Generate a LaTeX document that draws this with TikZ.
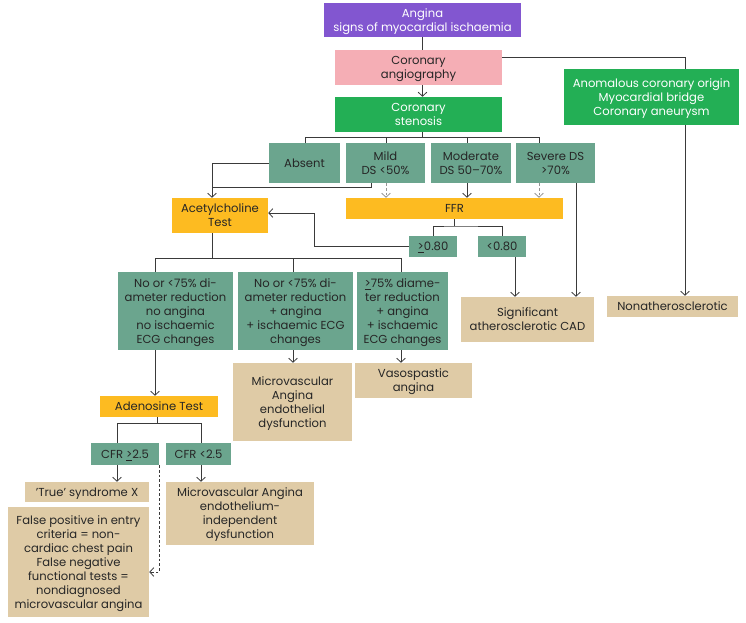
\documentclass[tikz,border=0pt]{standalone}
\usepackage{fontspec}
\setmainfont{Poppins}
\usetikzlibrary{arrows.meta}
\usetikzlibrary{positioning}
\usetikzlibrary{calc}
\definecolor{purpc}{HTML}{8256D0}
\definecolor{pinkc}{HTML}{F5AEB5}
\definecolor{greenc}{HTML}{23AF55}
\definecolor{tealc}{HTML}{6BA58E}
\definecolor{orangec}{HTML}{FDBB21}
\definecolor{beigec}{HTML}{DFCBA6}
\definecolor{linec}{HTML}{3A3A3A}
\definecolor{txtc}{HTML}{262626}
\tikzset {
  syntax path/.style = {
    draw = linec,
    line width = 0.6pt
  },
  % path style with an open tip at the end
  arr/.style = {
    syntax path,
    -{Straight Barb[length=3pt,width=6.5pt]}
  },
  % path style with no arrows
  narr/.style = {
    syntax path
  },
  % dashed path with tip
  darr/.style = {
    arr,
    dash pattern = on 2pt off 1.5pt
  },
  % grey dashed path with tip
  garr/.style = {
    darr,
    draw = linec!55
  }
}
\tikzset {
  flow node/.style = {
    inner sep = 0,
    align = center,
    text = txtc,
    font = \fontsize{8.7}{10.5}\selectfont,
    text depth = 0pt
  },
  sz/.style 2 args = {
    minimum width = #1*0.75pt,
    minimum height = #2*0.75pt
  },
  % start box
  purpb/.style = {flow node, fill = purpc, text = white},
  pinkb/.style = {flow node, fill = pinkc},
  greenb/.style = {flow node, fill = greenc, text = white},
  % stenosis grades and results
  tealb/.style = {flow node, fill = tealc},
  % tests
  orab/.style = {flow node, fill = orangec},
  % diagnoses
  beigeb/.style = {flow node, fill = beigec}
}
\begin{document}
\begin{tikzpicture}[x=0.75pt, y=-0.75pt]
    \useasboundingbox (0,0) rectangle (746,622);

    \node[purpb, sz={197}{34}] (angina) at (422.5,20) {Angina\\signs of myocardial ischaemia};
    \node[pinkb, sz={167}{35}] (angio) at (418.5,67.5) {Coronary\\angiography};
    \node[greenb, sz={167}{35}] (sten) at (418.5,114.5) {Coronary\\stenosis};
    \node[greenb, sz={175}{56}] (anom) at (651.5,97) {Anomalous coronary origin\\Myocardial bridge\\Coronary aneurysm};

    \node[tealb, sz={71}{40}] (absent) at (304.5,163) {Absent};
    \node[tealb, sz={79}{40}] (mild) at (385.5,163) {Mild\\DS <50\%};
    \node[tealb, sz={80}{40}] (moder) at (471,163) {Moderate\\DS 50--70\%};
    \node[tealb, sz={79}{40}] (severe) at (555.5,163) {Severe DS\\>70\%};

    \node[orab, sz={96}{35}] (ach) at (220,215.5) {Acetylcholine\\Test};
    \node[orab, sz={217}{21}] (ffr) at (454.5,208.5) {FFR};
    \node[tealb, sz={48}{21}] (hi) at (433,246.5) {\underline{>}0.80};
    \node[tealb, sz={48}{21}] (lo) at (502,246.5) {<0.80};

    \node[beigeb, sz={133}{45}] (sig) at (527.5,319.5) {Significant\\atherosclerotic CAD};
    \node[beigeb, sz={131}{21}] (nonath) at (672.5,306.5) {Nonatherosclerotic};

    \node[tealb, sz={115}{78}] (noang) at (175.5,311) {No or <75\% di-\\ameter reduction\\no angina\\no ischaemic\\ECG changes};
    \node[tealb, sz={115}{78}] (angecg) at (295.5,311) {No or <75\% di-\\ameter reduction\\+ angina\\+ ischaemic ECG\\changes};
    \node[tealb, sz={91}{78}] (diam) at (402.5,311) {\underline{>}75\% diame-\\ter reduction\\+ angina\\+ ischaemic\\ECG changes};

    \node[beigeb, sz={119}{78}] (mvend) at (292.5,402) {Microvascular\\Angina\\endothelial\\dysfunction};
    \node[beigeb, sz={117}{35}] (vaso) at (413.5,380.5) {Vasospastic\\angina};

    \node[orab, sz={118}{21}] (aden) at (159,406.5) {Adenosine Test};
    \node[tealb, sz={68}{22}] (cfrhi) at (125,454) {CFR \underline{>}2.5};
    \node[tealb, sz={65}{22}] (cfrlo) at (198.5,454) {CFR <2.5};

    \node[beigeb, sz={124}{20}] (truex) at (87,492) {'True' syndrome X};
    \node[beigeb, sz={141}{110}] (falsep) at (78.5,562) {False positive in entry\\criteria = non-\\cardiac chest pain\\False negative\\functional tests =\\nondiagnosed\\microvascular angina};
    \node[beigeb, sz={148}{63}] (mvind) at (240,513.5) {Microvascular Angina\\endothelium-\\independent\\dysfunction};

    % junction points
    \coordinate (ax) at (685,57);
    \coordinate (f1a) at (305,137);
    \coordinate (f1b) at (386,137);
    \coordinate (f1c) at (467,137);
    \coordinate (f1d) at (539,137);
    \coordinate (acx) at (212,187);
    \coordinate (mx) at (371,187);
    \coordinate (f2) at (454,226);
    \coordinate (kx) at (314,213);
    \coordinate (lx) at (515,258);
    \coordinate (sx) at (576,183);
    \coordinate (f3) at (212,258);
    \coordinate (f3a) at (155,258);
    \coordinate (f3b) at (293,258);
    \coordinate (f3c) at (401,258);
    \coordinate (f4) at (157,423);
    \coordinate (f4a) at (117,423);
    \coordinate (f4b) at (201,423);
    \coordinate (dd) at (159,572);

    \draw[narr] (angina.south) -- (angina.south |- angio.north);
    \draw[arr] (angina.south |- angio.south) -- (angina.south |- sten.north);
    \draw[narr] (ax -| angio.east) -- (ax) -- (ax |- anom.north);
    \draw[arr] (ax |- anom.south) -- (ax |- nonath.north);

    \draw[narr] (sten.south -| angina.south) -- (angina.south |- f1a);
    \draw[narr] (f1a) -- (f1d);
    \foreach \c in {f1a,f1b,f1c,f1d}
      \draw[narr] (\c) -- (\c |- absent.north);

    \draw[arr] (absent.west) -| (acx |- ach.north);
    \draw[narr] (mx |- mild.south) |- (acx);

    \draw[garr] (f1b |- mild.south) -- (f1b |- ffr.north);
    \draw[arr] (f1c |- moder.south) -- (f1c |- ffr.north);
    \draw[garr] (f1d |- severe.south) -- (f1d |- ffr.north);

    \draw[narr] (ffr.south) -- (ffr.south |- f2);
    \draw[narr] (hi.north) |- (f2) -| (lo.north);
    \draw[arr] (hi.west) -| (kx) -- (kx -| ach.east);
    \draw[arr] (lx |- lo.south) -- (lx |- sig.north);
    \draw[arr] (sx) -- (sx |- sig.north);

    \draw[narr] (f3 |- ach.south) -- (f3);
    \draw[narr] (f3a) -- (f3c);
    \foreach \c in {f3a,f3b,f3c}
      \draw[narr] (\c) -- (\c |- noang.north);
    \draw[arr] (f3a |- noang.south) -- (f3a |- aden.north);
    \draw[arr] (f3b |- angecg.south) -- (f3b |- mvend.north);
    \draw[arr] (f3c |- diam.south) -- (f3c |- vaso.north);

    \draw[narr] (f4 |- aden.south) -- (f4);
    \draw[narr] (f4a |- cfrhi.north) -- (f4a) -- (f4b) -- (f4b |- cfrlo.north);
    \draw[arr] (f4a |- cfrhi.south) -- (f4a |- truex.north);
    \draw[arr] (f4b |- cfrlo.south) -- (f4b |- mvind.north);
    \draw[darr] (dd |- cfrhi.south) -- (dd) -- (dd -| falsep.east);

\end{tikzpicture}
\end{document}
